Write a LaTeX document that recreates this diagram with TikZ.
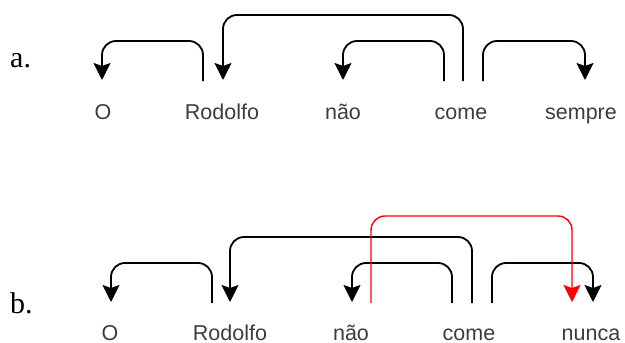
\documentclass[tikz,border=0pt]{standalone}
\usepackage{fontspec}
\setmainfont{Liberation Serif}
\newfontfamily\wordfont{Liberation Sans}
\usetikzlibrary{arrows.meta}
\definecolor{wordgray}{RGB}{60,60,60}
\definecolor{depred}{RGB}{255,0,0}
\begin{document}
\begin{tikzpicture}[x=1pt,y=-1pt,
  word/.style={font=\wordfont\fontsize{21.5}{21.5}\selectfont, text=wordgray, inner sep=0pt, anchor=base},
  lbl/.style={font=\fontsize{30}{30}\selectfont, inner sep=0pt, anchor=base west},
  dep/.style={draw=black, line width=1.8pt, rounded corners=14pt, -{Stealth[length=17pt,width=17pt,inset=3pt]}},
  deprd/.style={draw=depred, line width=1.4pt, rounded corners=14pt, -{Stealth[length=17pt,width=17pt,inset=3pt]}}]
\useasboundingbox (0,0) rectangle (625,343);

% ---------- a ----------
\node[lbl] (la) at (10,67) {a.};
\node[word] (aO) at (103,119) {O};
\node[word] (aR) at (222,119) {Rodolfo};
\node[word] (aN) at (343,119) {não};
\node[word] (aC) at (461,119) {come};
\node[word] (aS) at (581,119) {sempre};

\coordinate (aRout) at (203,81);
\coordinate (aOin) at (102,80);
\coordinate (aCout1) at (463,81);
\coordinate (aRin) at (223,80);
\coordinate (aCout2) at (444,81);
\coordinate (aNin) at (343,80);
\coordinate (aCout3) at (483,81);
\coordinate (aSin) at (585,80);
\coordinate (aLow) at (0,41);
\coordinate (aHigh) at (0,15);

\draw[dep] (aRout) -- (aRout |- aLow) -- (aOin |- aLow) -- (aOin);
\draw[dep] (aCout1) -- (aCout1 |- aHigh) -- (aRin |- aHigh) -- (aRin);
\draw[dep] (aCout2) -- (aCout2 |- aLow) -- (aNin |- aLow) -- (aNin);
\draw[dep] (aCout3) -- (aCout3 |- aLow) -- (aSin |- aLow) -- (aSin);

% ---------- b ----------
\node[lbl] (lb) at (10,313) {b.};
\node[word] (bO) at (110,340) {O};
\node[word] (bR) at (230,340) {Rodolfo};
\node[word] (bN) at (351,340) {não};
\node[word] (bC) at (469,340) {come};
\node[word] (bU) at (591,340) {nunca};

\coordinate (bRout) at (212,303);
\coordinate (bOin) at (111,302);
\coordinate (bCout1) at (472,303);
\coordinate (bRin) at (230,302);
\coordinate (bCout2) at (452,303);
\coordinate (bNin) at (352,302);
\coordinate (bCout3) at (492,303);
\coordinate (bUin) at (593,302);
\coordinate (bNout) at (371,303);
\coordinate (bUin2) at (572,302);
\coordinate (bLow) at (0,263);
\coordinate (bMid) at (0,237);
\coordinate (bHigh) at (0,216);

\draw[dep] (bRout) -- (bRout |- bLow) -- (bOin |- bLow) -- (bOin);
\draw[dep] (bCout1) -- (bCout1 |- bMid) -- (bRin |- bMid) -- (bRin);
\draw[dep] (bCout2) -- (bCout2 |- bLow) -- (bNin |- bLow) -- (bNin);
\draw[dep] (bCout3) -- (bCout3 |- bLow) -- (bUin |- bLow) -- (bUin);
\draw[deprd] (bNout) -- (bNout |- bHigh) -- (bUin2 |- bHigh) -- (bUin2);
\end{tikzpicture}
\end{document}
